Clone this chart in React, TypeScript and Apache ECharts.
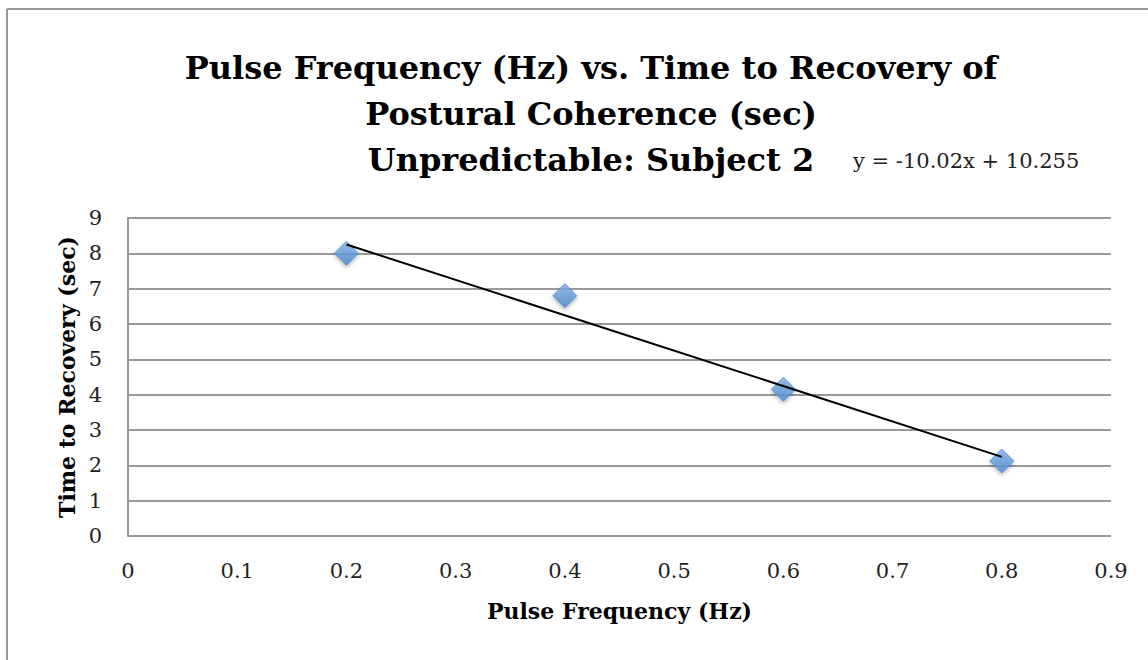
import React, { useEffect, useRef } from "react";
import * as echarts from "echarts";

const titleLines = [
  "Pulse Frequency (Hz) vs. Time to Recovery of",
  "Postural Coherence (sec)",
  "Unpredictable: Subject 2",
];
const equationText = "y = -10.02x + 10.255";
const xAxisName = "Pulse Frequency (Hz)";
const yAxisName = "Time to Recovery (sec)";

const pulseFreq = [0.2, 0.4, 0.6, 0.8];
const recoveryTime = [8.0, 6.8, 4.15, 2.12];

const trendSlope = -10.02;
const trendIntercept = 10.255;
const trendX = [0.2, 0.8];

const SERIF = "'DejaVu Serif', 'Liberation Serif', serif";

export default function App() {
  const ref = useRef<HTMLDivElement>(null);
  useEffect(() => {
    if (!ref.current) return;
    const chart = echarts.init(ref.current, null, { renderer: "svg" });
    const points = pulseFreq.map((x, i) => [x, recoveryTime[i]]);
    const trend = trendX.map((x) => [x, trendSlope * x + trendIntercept]);
    chart.setOption({
      animation: false,
      backgroundColor: "#ffffff",
      title: {
        text: titleLines.join("\n"),
        left: 586,
        top: 40,
        textAlign: "center",
        textStyle: {
          fontFamily: SERIF,
          fontWeight: "bold",
          fontSize: 32,
          lineHeight: 46,
          color: "#000",
        },
      },
      graphic: [
        {
          type: "line",
          shape: { x1: 7, y1: 9, x2: 1148, y2: 9 },
          style: { stroke: "#999", lineWidth: 2 },
        },
        {
          type: "line",
          shape: { x1: 7, y1: 9, x2: 7, y2: 660 },
          style: { stroke: "#999", lineWidth: 2 },
        },
        {
          type: "text",
          x: 853,
          y: 161,
          style: {
            text: equationText,
            fontFamily: SERIF,
            fontSize: 21,
            fill: "#222",
            verticalAlign: "middle",
          },
        },
      ],
      grid: { left: 128, right: 37, top: 218, bottom: 124 },
      xAxis: {
        type: "value",
        min: 0,
        max: 0.9,
        interval: 0.1,
        name: xAxisName,
        nameLocation: "middle",
        nameGap: 64,
        nameTextStyle: {
          fontFamily: SERIF,
          fontWeight: "bold",
          fontSize: 22,
          color: "#000",
        },
        axisLine: { show: false },
        axisTick: { show: false },
        splitLine: { show: false },
        axisLabel: {
          fontFamily: SERIF,
          fontSize: 21,
          color: "#222",
          margin: 24,
          formatter: (v: number) => String(Math.round(v * 10) / 10),
        },
      },
      yAxis: {
        type: "value",
        min: 0,
        max: 9,
        interval: 1,
        name: yAxisName,
        nameLocation: "middle",
        nameGap: 50,
        nameRotate: 90,
        nameTextStyle: {
          fontFamily: SERIF,
          fontWeight: "bold",
          fontSize: 22,
          color: "#000",
        },
        axisLine: { show: true, lineStyle: { color: "#999", width: 2 } },
        axisTick: { show: false },
        splitLine: { show: true, lineStyle: { color: "#999", width: 2 } },
        axisLabel: {
          fontFamily: SERIF,
          fontSize: 21,
          color: "#222",
          margin: 26,
        },
      },
      series: [
        {
          type: "scatter",
          data: points,
          symbol: "diamond",
          symbolSize: 24,
          itemStyle: {
            color: new echarts.graphic.LinearGradient(0, 0, 0, 1, [
              { offset: 0, color: "#7fb0e8" },
              { offset: 1, color: "#4a88d0" },
            ]),
            borderColor: "#4f8ad0",
            borderWidth: 1,
            shadowColor: "rgba(0,0,0,0.35)",
            shadowBlur: 4,
            shadowOffsetY: 2,
          },
          z: 3,
        },
        {
          type: "line",
          data: trend,
          symbol: "none",
          lineStyle: { color: "#000", width: 2 },
          z: 4,
        },
      ],
    });
    return () => chart.dispose();
  }, []);
  return (
    <div
      ref={ref}
      style={{ position: "absolute", left: 0, top: 0, width: 1148, height: 660 }}
    />
  );
}
